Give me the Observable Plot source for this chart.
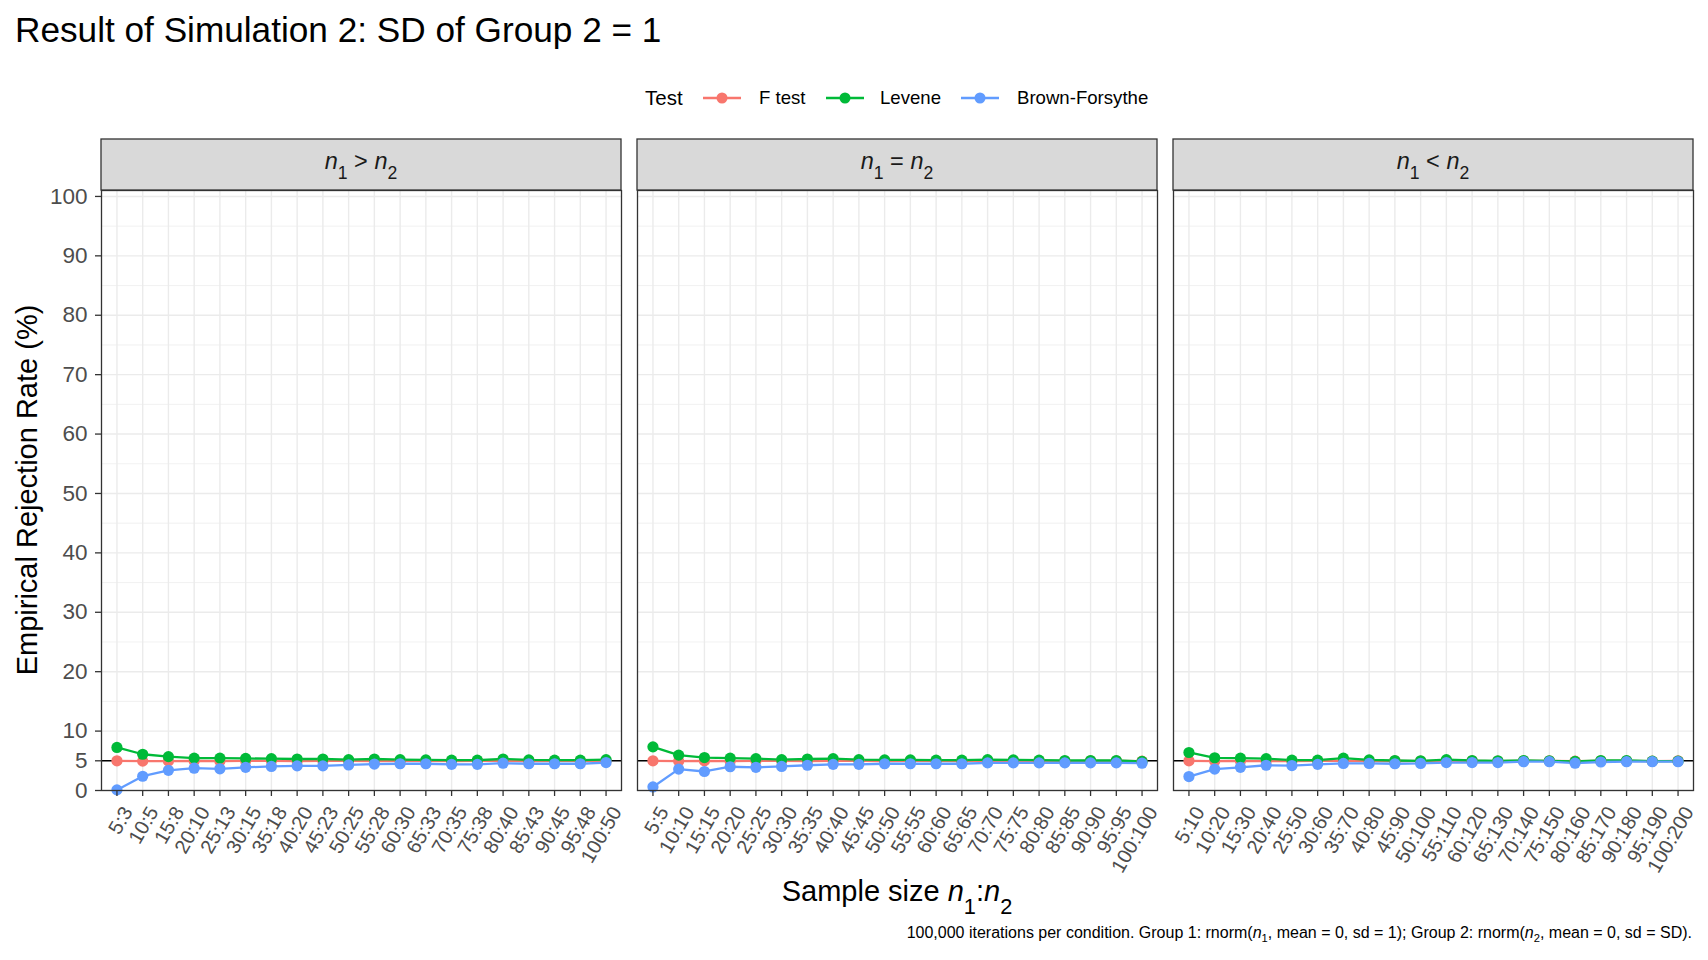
<!DOCTYPE html>
<html>
<head>
<meta charset="utf-8">
<script src="https://cdn.jsdelivr.net/npm/d3@7"></script>
<script src="https://cdn.jsdelivr.net/npm/@observablehq/plot@0.6"></script>
<style>
  body { margin: 0; width: 1708px; height: 960px; position: relative; background: #fff; overflow: hidden;
         font-family: "Liberation Sans", Arial, sans-serif; }
  #title { position: absolute; left: 15px; top: 12px; font-size: 35.2px; line-height: 35px; color: #000; white-space: nowrap; }
  #legend { position: absolute; left: 0; top: 86px; height: 24px; width: 1708px; }
  #legend span { position: absolute; top: 0; line-height: 24px; white-space: nowrap; color: #000; }
  #legend svg { position: absolute; top: 0; }
  #chart { position: absolute; left: 0; top: 125px; }
  #caption { position: absolute; right: 16px; top: 925px; font-size: 16px; line-height: 16px; color: #000; white-space: nowrap; }
</style>
</head>
<body>
<div id="title">Result of Simulation 2: SD of Group 2 = 1</div>
<div id="legend"></div>
<div id="chart"></div>
<div id="caption">100,000 iterations per condition. Group 1: rnorm(<i>n</i><sub style="font-size:70%">1</sub>, mean = 0, sd = 1); Group 2: rnorm(<i>n</i><sub style="font-size:70%">2</sub>, mean = 0, sd = SD).</div>
<script>
// ---------- data ----------
const panelKeys = ["gt", "eq", "lt"];
const panelSubs = [">", "=", "<"];
const tests = ["F test", "Levene", "Brown-Forsythe"];
const testColors = ["#F8766D", "#00BA38", "#619CFF"];
const yTicks = [0, 5, 10, 20, 30, 40, 50, 60, 70, 80, 90, 100];
const yMinor = [15, 25, 35, 45, 55, 65, 75, 85, 95];

const labelsGt = ["5:3","10:5","15:8","20:10","25:13","30:15","35:18","40:20","45:23","50:25","55:28","60:30","65:33","70:35","75:38","80:40","85:43","90:45","95:48","100:50"];
const labelsEq = ["5:5","10:10","15:15","20:20","25:25","30:30","35:35","40:40","45:45","50:50","55:55","60:60","65:65","70:70","75:75","80:80","85:85","90:90","95:95","100:100"];
const labelsLt = ["5:10","10:20","15:30","20:40","25:50","30:60","35:70","40:80","45:90","50:100","55:110","60:120","65:130","70:140","75:150","80:160","85:170","90:180","95:190","100:200"];

const fGt  = [5.0, 4.95, 4.95, 5.0, 4.95, 5.0, 5.0, 4.95, 5.0, 5.0, 4.95, 5.0, 5.0, 4.95, 5.0, 5.0, 4.95, 5.0, 5.0, 5.0];
const levGt = [7.25, 6.1, 5.7, 5.45, 5.45, 5.4, 5.35, 5.3, 5.3, 5.2, 5.3, 5.2, 5.15, 5.1, 5.1, 5.3, 5.15, 5.1, 5.1, 5.2];
const bfGt = [0.1, 2.4, 3.4, 3.75, 3.65, 3.9, 4.05, 4.15, 4.15, 4.3, 4.45, 4.5, 4.5, 4.4, 4.4, 4.6, 4.5, 4.5, 4.5, 4.7];

const fEq  = [5.0, 4.95, 5.0, 4.95, 5.0, 5.0, 4.95, 5.0, 5.0, 4.95, 5.0, 5.0, 4.95, 5.0, 5.0, 5.0, 4.95, 5.0, 5.0, 4.95];
const levEq = [7.35, 5.95, 5.55, 5.45, 5.35, 5.2, 5.3, 5.35, 5.2, 5.15, 5.15, 5.1, 5.1, 5.2, 5.15, 5.1, 5.05, 5.05, 5.05, 4.9];
const bfEq = [0.6, 3.6, 3.2, 4.0, 3.9, 4.05, 4.25, 4.4, 4.4, 4.5, 4.5, 4.5, 4.5, 4.65, 4.65, 4.65, 4.65, 4.65, 4.65, 4.6];

const fLt  = [5.0, 4.95, 5.0, 4.95, 4.95, 5.0, 5.0, 4.95, 5.0, 4.95, 5.0, 5.0, 4.95, 5.0, 5.0, 4.95, 5.0, 5.0, 4.95, 5.0];
const levLt = [6.4, 5.5, 5.45, 5.35, 5.1, 5.1, 5.45, 5.15, 5.05, 5.0, 5.2, 5.05, 5.0, 5.05, 5.0, 4.9, 5.05, 5.05, 4.95, 4.95];
const bfLt = [2.35, 3.6, 3.9, 4.25, 4.2, 4.4, 4.55, 4.55, 4.5, 4.55, 4.7, 4.7, 4.7, 4.85, 4.85, 4.6, 4.8, 4.85, 4.85, 4.85];

// ---------- tables ----------
const panelLabels = {gt: labelsGt, eq: labelsEq, lt: labelsLt};
const panelSeries = {gt: [fGt, levGt, bfGt], eq: [fEq, levEq, bfEq], lt: [fLt, levLt, bfLt]};
const rows = [];
const tickRows = [];
for (const p of panelKeys) {
  panelSeries[p].forEach((vals, t) => {
    vals.forEach((v, i) => rows.push({panel: p, idx: i + 1, test: tests[t], value: v}));
  });
  panelLabels[p].forEach((l, i) => tickRows.push({panel: p, idx: i + 1, label: l}));
}
const idxs = d3.range(1, 21);

// ---------- legend ----------
const legend = document.getElementById("legend");
function addSpan(text, left, size) {
  const s = document.createElement("span");
  s.textContent = text; s.style.left = left + "px"; s.style.fontSize = size + "px";
  legend.appendChild(s);
}
addSpan("Test", 645, 20.5);
const keyLefts = [703, 826, 961];
const labelLefts = [759, 880, 1017];
tests.forEach((t, i) => {
  const k = d3.create("svg").attr("width", 38).attr("height", 24).style("left", keyLefts[i] + "px");
  k.append("line").attr("x1", 0).attr("x2", 38).attr("y1", 12).attr("y2", 12).attr("stroke", testColors[i]).attr("stroke-width", 2.3);
  k.append("circle").attr("cx", 19).attr("cy", 12).attr("r", 5.5).attr("fill", testColors[i]);
  legend.appendChild(k.node());
  addSpan(t, labelLefts[i], 18.6);
});

// ---------- chart ----------
const W = 1708, H = 800, mT = 65, mB = 135, mL = 101, mR = 15;
const chart = Plot.plot({
  width: W, height: H,
  marginLeft: mL, marginRight: mR, marginTop: mT, marginBottom: mB,
  style: {fontFamily: "Liberation Sans, Arial, sans-serif", background: "white", overflow: "visible"},
  fx: {domain: panelKeys, padding: 16 / 536, axis: null, label: null, round: false},
  x: {type: "point", domain: idxs, padding: 0.6, round: false, axis: null},
  y: {domain: [0, 101], axis: null},
  color: {domain: tests, range: testColors},
  marks: [
    Plot.gridY(yMinor, {stroke: "#EBEBEB", strokeOpacity: 1, strokeWidth: 0.7}),
    Plot.gridY(yTicks, {stroke: "#EBEBEB", strokeOpacity: 1, strokeWidth: 1.4}),
    Plot.gridX(idxs, {stroke: "#EBEBEB", strokeOpacity: 1, strokeWidth: 1.4}),
    Plot.ruleY([5], {stroke: "#000", strokeWidth: 1.6}),
    Plot.line(rows, {fx: "panel", x: "idx", y: "value", z: "test", stroke: "test", strokeWidth: 2.3}),
    Plot.dot(rows, {fx: "panel", x: "idx", y: "value", fill: "test", r: 5.6}),
    Plot.frame({stroke: "#333333", strokeWidth: 1.3}),
    Plot.axisY(yTicks, {tickSize: 6, tickPadding: 8, stroke: "#333333", fill: "#4D4D4D", fontSize: 22.5, label: null, strokeWidth: 1.3}),
    Plot.axisX(idxs, {tickSize: 6, stroke: "#333333", fill: "none", label: null, strokeWidth: 1.3}),
    Plot.text(tickRows, {fx: "panel", x: "idx", text: "label", frameAnchor: "bottom", rotate: -60,
      textAnchor: "end", lineAnchor: "top", dy: 14, dx: 4, fontSize: 20, fill: "#4D4D4D"})
  ]
});
document.getElementById("chart").appendChild(chart);

// ---------- strips and axis titles ----------
const svg = d3.select(chart);
const fxs = chart.scale("fx");
const bw = fxs.bandwidth;
function subText(sel, parts, size) {
  parts.forEach(([t, it, sub]) => {
    const ts = sel.append("tspan").text(t);
    if (it) ts.attr("font-style", "italic");
    if (sub) ts.attr("font-size", size * 0.75).attr("baseline-shift", "sub");
  });
}
panelKeys.forEach((p, i) => {
  const x0 = fxs.apply(p);
  svg.append("rect").attr("x", x0).attr("y", 14).attr("width", bw).attr("height", mT - 14)
    .attr("fill", "#D9D9D9").attr("stroke", "#333333").attr("stroke-width", 1.3);
  const t = svg.append("text").attr("x", x0 + bw / 2).attr("y", 14 + (mT - 14) / 2 + 4)
    .attr("text-anchor", "middle").attr("font-size", 23.5).attr("fill", "#1A1A1A");
  subText(t, [["n", true, false], ["1", false, true], [" " + panelSubs[i] + " ", false, false], ["n", true, false], ["2", false, true]], 23.5);
});
// y title
svg.append("text").attr("transform", `translate(27,${(mT + (H - mB)) / 2}) rotate(-90)`)
  .attr("text-anchor", "middle").attr("dy", "0.36em").attr("font-size", 29).attr("fill", "#000")
  .text("Empirical Rejection Rate (%)");
// x title
const xt = svg.append("text").attr("x", mL + (W - mL - mR) / 2).attr("y", 776)
  .attr("text-anchor", "middle").attr("font-size", 29).attr("fill", "#000");
subText(xt, [["Sample size ", false, false], ["n", true, false], ["1", false, true], [":", false, false], ["n", true, false], ["2", false, true]], 29);
</script>
</body>
</html>
